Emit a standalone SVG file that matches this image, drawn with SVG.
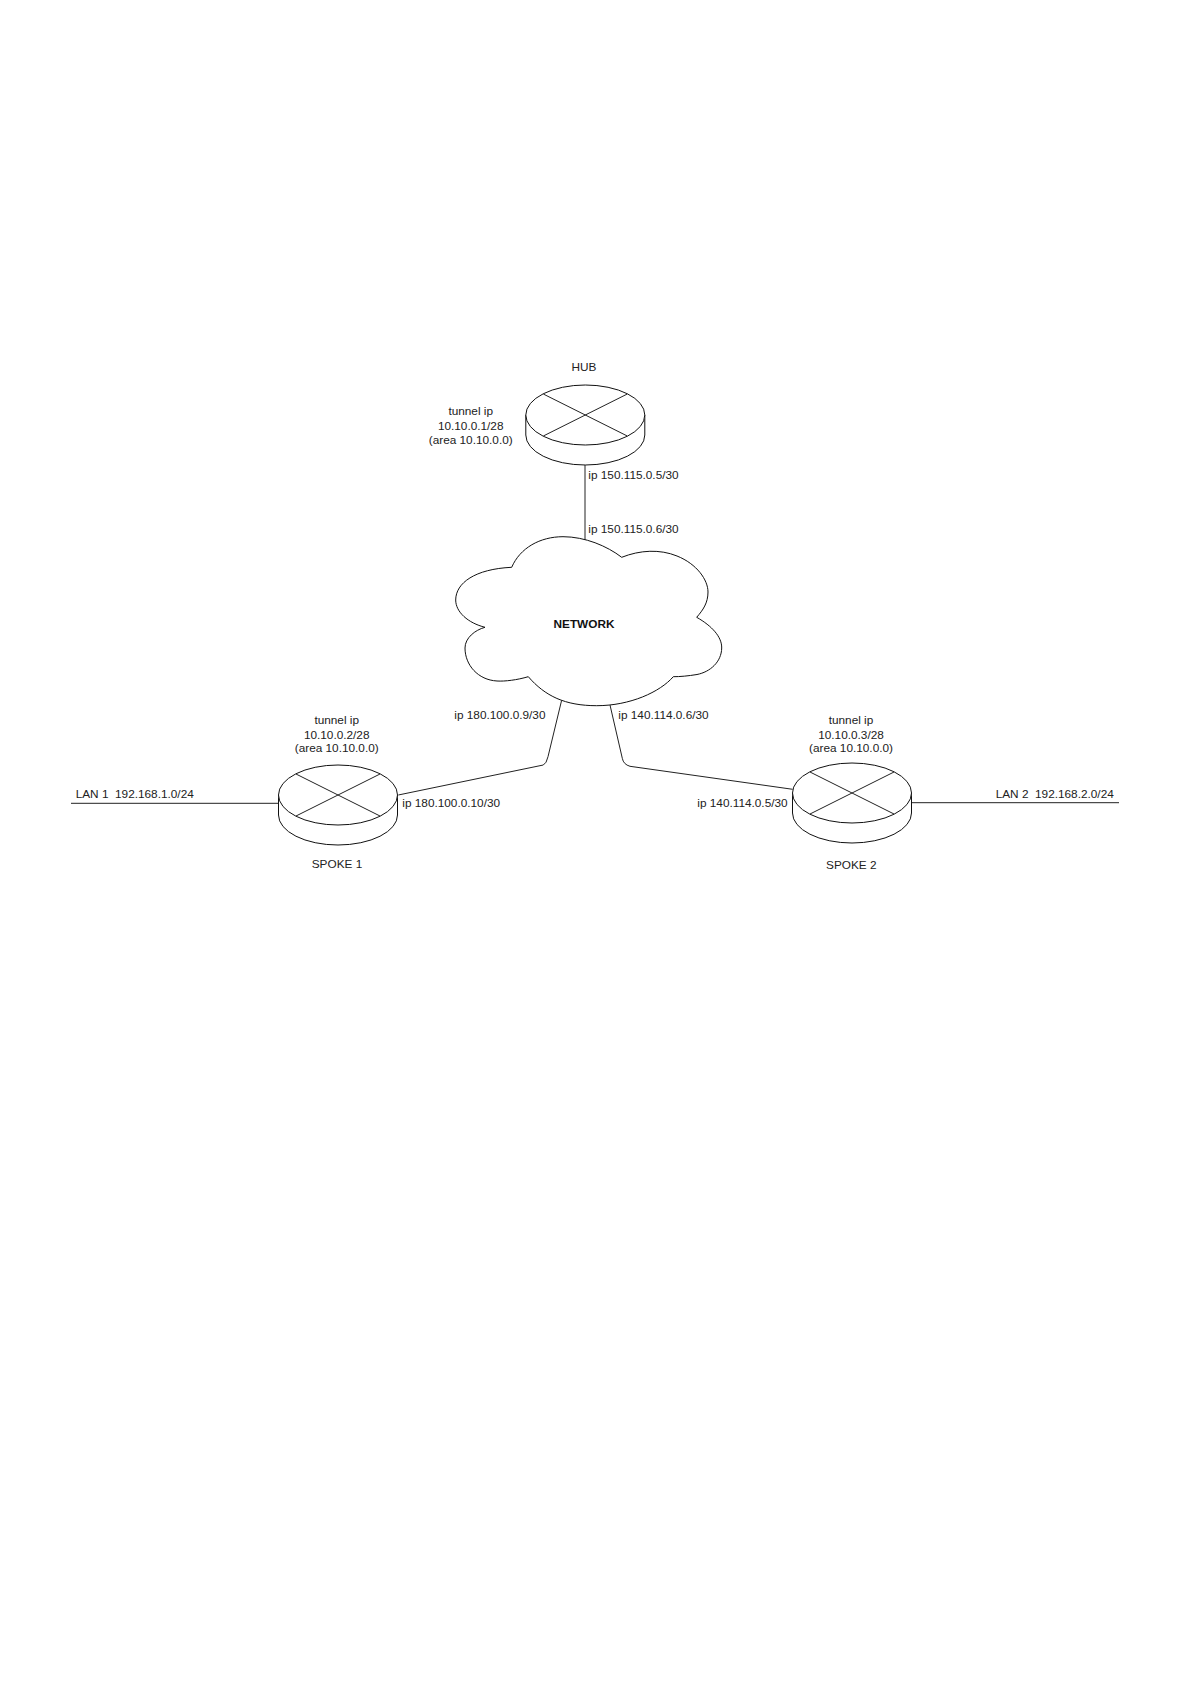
<svg xmlns="http://www.w3.org/2000/svg" width="1191" height="1684" viewBox="0 0 1191 1684">
<style>
text{font-family:"Liberation Sans",Arial,sans-serif;font-size:11.8px;fill:#222;white-space:pre}
.c{text-anchor:middle}
.b{font-weight:bold;fill:#111}
.s{fill:#fff;stroke:#111;stroke-width:1}
.l{fill:none;stroke:#222;stroke-width:1}
</style>
<defs>
<g id="router">
<path class="s" d="M-59.5 0V20A59.5 30 0 0 0 59.500 20V0"/>
<ellipse class="s" cx="0" cy="0" rx="59.500" ry="30"/>
<path class="l" d="M-42-21L42 21M42-21L-42 21"/>
</g>
</defs>
<rect width="1191" height="1684" fill="#fff"/>
<g id="connectors">
<path class="l" d="M585 465V541"/>
<path class="l" d="M398.300 795L543.300 765Q546.500 763.500 548 756.700L561.700 700"/>
<path class="l" d="M610 705L622.300 758.300Q623.500 764.500 630 766.300L792.700 789.300"/>
<path class="l" d="M71 803.300H278.500"/>
<path class="l" d="M911 802.700H1119"/>
</g>
<g id="hub">
<use href="#router" x="585.300" y="415"/>
<text class="c" x="584" y="370.700">HUB</text>
<text class="c" x="470.700" y="415.300">tunnel ip</text>
<text class="c" x="470.700" y="430">10.10.0.1/28</text>
<text class="c" x="470.700" y="443.700">(area 10.10.0.0)</text>
<text x="588.300" y="478.700">ip 150.115.0.5/30</text>
</g>
<g id="network">
<path class="s" d="M511.700 567.300C520 548 540 536.700 563 536.700C585 536.700 607 546 621.700 557.300C640 550 660 549 677 556C697 564 708 580 708 592C708 603 703 610 696.700 617.300C712 626 722 637 721.700 648C721.500 662 710 672 697 674.500C688 676 680 676.700 673.300 676.700C660 692 630 705.700 596.700 705.700C565 705.700 545 696 528.300 676.700C517 680 505 681.500 497 681C478 680 465 665 465 648C465 638 475 630 485 627.300C468 623 455.700 612 455.700 600C455.700 583 475 569 511.700 567.300Z"/>
<text class="c b" x="584" y="628.300">NETWORK</text>
<text x="588.300" y="532.700">ip 150.115.0.6/30</text>
<text x="454.300" y="719">ip 180.100.0.9/30</text>
<text x="618.300" y="719">ip 140.114.0.6/30</text>
</g>
<g id="spoke1">
<use href="#router" x="338" y="795"/>
<text class="c" x="336.700" y="724">tunnel ip</text>
<text class="c" x="336.700" y="738.700">10.10.0.2/28</text>
<text class="c" x="336.700" y="752.400">(area 10.10.0.0)</text>
<text x="75.700" y="797.700">LAN 1  192.168.1.0/24</text>
<text x="402.300" y="807.300">ip 180.100.0.10/30</text>
<text class="c" x="337" y="868.300">SPOKE 1</text>
</g>
<g id="spoke2">
<use href="#router" x="852" y="793"/>
<text class="c" x="851" y="724">tunnel ip</text>
<text class="c" x="851" y="738.700">10.10.0.3/28</text>
<text class="c" x="851" y="752.400">(area 10.10.0.0)</text>
<text x="995.700" y="798">LAN 2  192.168.2.0/24</text>
<text x="697.300" y="807.300">ip 140.114.0.5/30</text>
<text class="c" x="851.300" y="868.500">SPOKE 2</text>
</g>
</svg>
